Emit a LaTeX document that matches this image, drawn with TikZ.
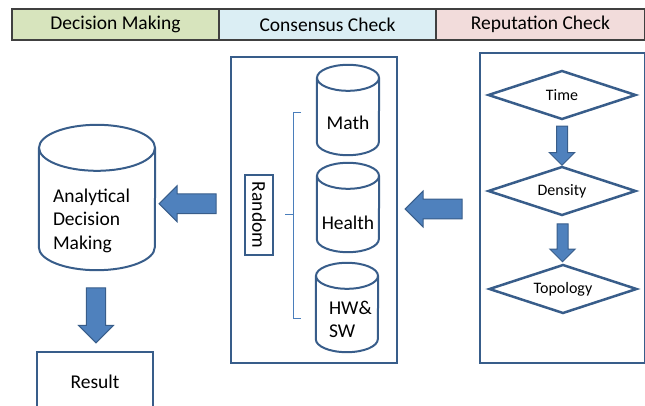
\documentclass[tikz,border=0pt]{standalone}
\usepackage{fontspec}
\setmainfont{Carlito}
\usetikzlibrary{shapes.geometric,shapes.arrows,calc}

\definecolor{hdrgreen}{HTML}{D7E4BD}
\definecolor{hdrblue}{HTML}{DBEEF4}
\definecolor{hdrpink}{HTML}{F2DCDB}
\definecolor{edgeblue}{HTML}{385D8A}
\definecolor{fillblue}{HTML}{4F81BD}
\definecolor{bracecol}{HTML}{4A7EBB}

\tikzset{
  bigfont/.style={font=\fontsize{19.5}{23.5}\selectfont},
  header/.style={draw=black!75, line width=1.2pt, minimum height=31pt, inner sep=0pt, bigfont},
  panel/.style={draw=edgeblue, line width=2pt, inner sep=0pt},
  dbline/.style={draw=edgeblue, line width=2pt},
  dbtext/.style={inner sep=0pt, bigfont, align=left},
  checkbox/.style={diamond, draw=edgeblue, line width=2.5pt, aspect=3, inner sep=0pt,
    minimum width=148pt, minimum height=49pt, font=\fontsize{16}{18}\selectfont},
  blockarrow/.style={single arrow, draw=edgeblue, fill=fillblue, line width=1pt,
    single arrow tip angle=90}
}

% database drum: name, x, y, width, height, half height of the end ellipse
\newcommand\dbdrum[6]{%
  \node[inner sep=0pt, minimum width=#4pt, minimum height=#5pt] (#1) at (#2,#3) {};
  \draw[dbline] ([yshift=-#6pt]#1.north west) -- ([yshift=#6pt]#1.south west)
    arc[start angle=180, end angle=0, x radius=#4/2, y radius=#6]
    -- ([yshift=-#6pt]#1.north east);
  \draw[dbline] ([yshift=-#6pt]#1.north) ellipse [x radius=#4/2, y radius=#6];
}

\begin{document}
\begin{tikzpicture}[x=1pt, y=-1pt]
  \useasboundingbox (0,0) rectangle (645,406);
  \clip (0,0) rectangle (645,406);

  % stage titles
  \node[header, fill=hdrgreen, minimum width=207pt] (hdrA) at (115.5,24.5) {Decision Making};
  \node[header, fill=hdrblue, minimum width=217pt] (hdrB) at (327.5,24.5) {Consensus Check};
  \node[header, fill=hdrpink, minimum width=209pt] (hdrC) at (540.5,24.5) {Reputation Check};

  % decision making
  \dbdrum{adm}{97}{197.5}{116}{145}{23}
  \node[dbtext, anchor=west] at ([xshift=14pt,yshift=-23pt]adm.west) {Analytical\\Decision\\Making};
  \node[panel, minimum width=116pt, minimum height=68pt] (result) at (95,386) {};
  \node[dbtext] at ([yshift=4pt]result.center) {Result};

  % consensus check
  \node[panel, minimum width=166pt, minimum height=306pt] (cons) at (314,210) {};
  \dbdrum{math}{348}{110}{62}{90}{13}
  \dbdrum{health}{348}{207.5}{62}{89}{13}
  \dbdrum{hwsw}{347}{307.5}{62}{89}{13}
  \node[dbtext] at ([yshift=-13pt]math.center) {Math};
  \node[dbtext] at ([yshift=-15pt]health.center) {Health};
  \node[dbtext, anchor=west] at ([xshift=13pt,yshift=-12pt]hwsw.west) {HW\&\\SW};
  \node[panel, minimum width=80pt, minimum height=28pt, rotate=-90, bigfont]
    (random) at (259,215) {Random};
  % brace grouping the three checks
  \draw[bracecol, line width=1pt] (301,113) -- (293,113) -- (293,318) -- (301,318);
  \draw[bracecol, line width=1pt] (285,215) -- (293,215);

  % reputation check
  \node[panel, minimum width=165pt, minimum height=310pt] (rep) at (562.5,208) {};
  \node[checkbox] (time) at (562,95) {Time};
  \node[checkbox] (density) at (562,191) {Density};
  \node[checkbox] (topo) at (563,289) {Topology};

  % flow arrows
  \node[blockarrow, shape border rotate=180, inner sep=8pt, minimum height=57pt,
    minimum width=36pt] (arrA) at ($(cons.west)!0.5!(adm.east)$) {};
  \node[blockarrow, shape border rotate=180, inner sep=8pt, minimum height=57pt,
    minimum width=36pt] (arrB) at ($(rep.west)!0.5!(cons.east)$) {};
  \node[blockarrow, shape border rotate=270, inner sep=8pt, minimum height=55pt,
    minimum width=35pt] (arrC) at ($(adm.south)!0.5!(result.north)$) {};
  \node[blockarrow, shape border rotate=270, inner sep=5pt, minimum height=39pt,
    minimum width=21pt] (arrD) at ($(time.south)!0.5!(density.north)$) {};
  \node[blockarrow, shape border rotate=270, inner sep=5pt, minimum height=38pt,
    minimum width=21pt] (arrE) at ($(density.south)!0.5!(topo.north)$) {};
\end{tikzpicture}
\end{document}
